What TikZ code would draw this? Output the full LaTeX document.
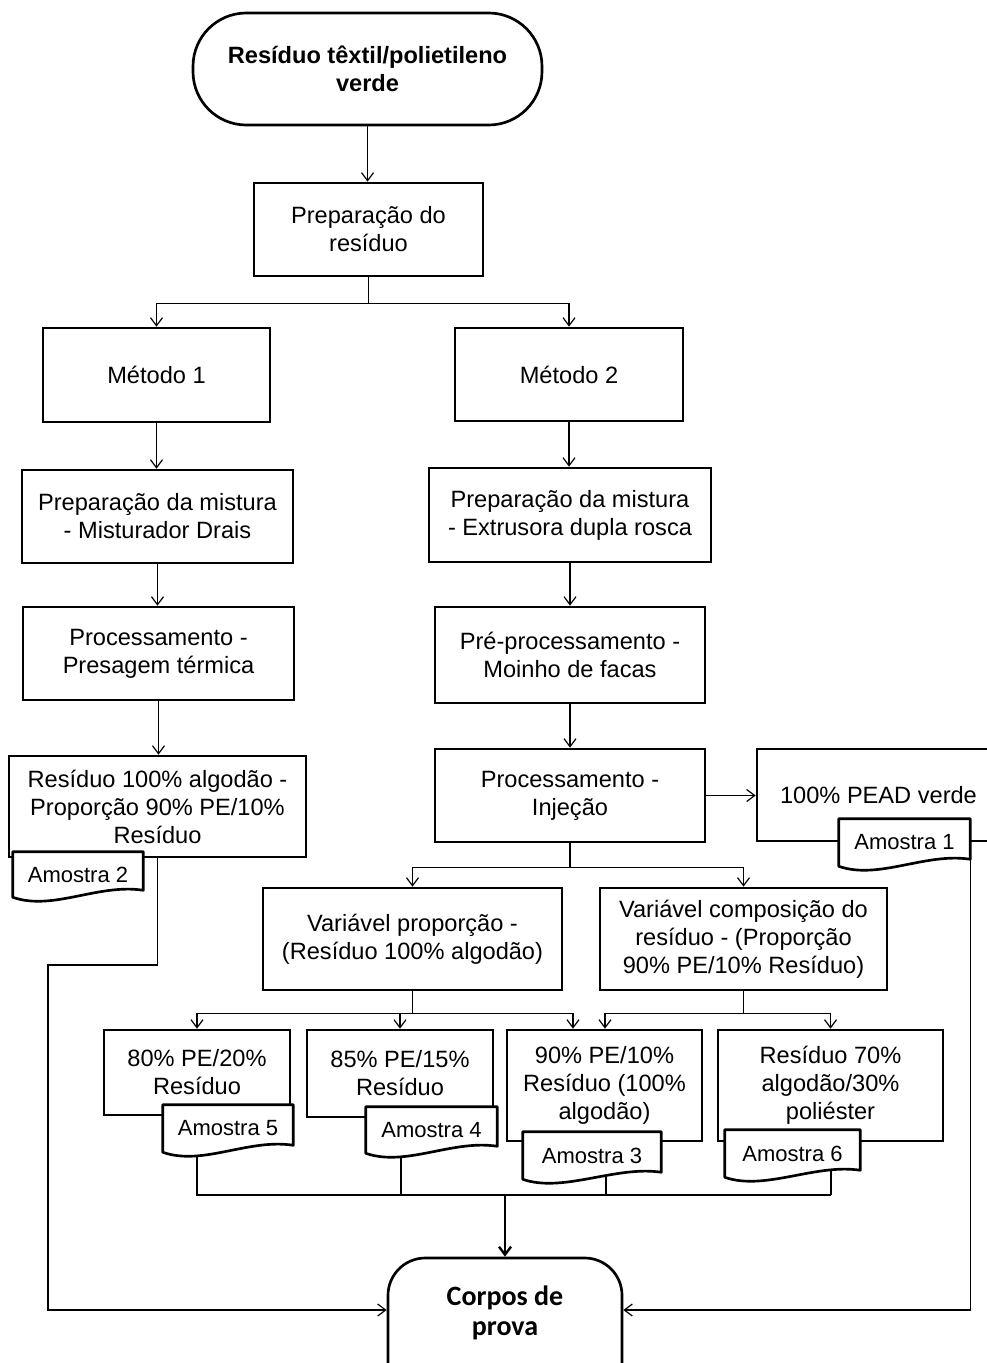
\documentclass[tikz,border=0pt]{standalone}
\usepackage{fontspec}
\setmainfont{Liberation Sans}
\newfontfamily\corposfont{Carlito}
\usetikzlibrary{fit,calc,arrows.meta}
\pgfdeclarelayer{background}
\pgfsetlayers{background,main}
% box from pixel corners: [style]{name}{x1}{y1}{x2}{y2}{text}
\newcommand\bx[7][box]{%
  \pgfmathsetmacro\bxcx{(#3+#5)/2}\pgfmathsetmacro\bxcy{(#4+#6)/2}%
  \pgfmathsetmacro\bxw{(#5-#3)*0.75}\pgfmathsetmacro\bxh{(#6-#4)*0.75}%
  \node[#1, minimum width=\bxw pt, minimum height=\bxh pt] (#2) at (\bxcx,\bxcy) {#7};}
\newcommand\docbox[4]{%
  \node[fit={#2 #3}, inner sep=0pt] (#1) {};
  \filldraw[docline] (#1.north west) -- (#1.north east) -- ($(#1.south east)+(0,-7)$)
    .. controls ($(#1.south east)+(-45,-14)$) and ($(#1.south west)+(40,14)$) .. (#1.south west) -- cycle;
  \node[docn] (#1t) at (#1.center) {#4};}
\begin{document}
\begin{tikzpicture}[x=0.75pt,y=-0.75pt,
  box/.style={draw, line width=2pt, inner sep=0pt, align=center, font=\fontsize{17.7}{21}\selectfont},
  term/.style={box, rounded corners=40pt, font=\bfseries\fontsize{17.7}{21}\selectfont},
  docn/.style={inner sep=0pt, align=center, font=\fontsize{16.5}{20}\selectfont},
  docline/.style={draw, fill=white, line width=2pt, line join=round},
  conn/.style={line width=0.9pt},
  arr/.style={conn, -{Straight Barb[length=6pt,width=9pt]}},
]
\useasboundingbox (0,0) rectangle (987,1363);
\clip (0,0) rectangle (987,1363);

% main boxes
\bx[term]{start}{193}{13}{542}{125}{Resíduo têxtil/polietileno\\verde}
\bx{prep}{254}{183}{483}{276}{Preparação do\\resíduo}
\bx{m1}{43}{328}{270}{422}{Método 1}
\bx{m2}{455}{328}{683}{421}{Método 2}
\bx{mix1}{22}{470}{293}{563}{Preparação da mistura\\- Misturador Drais}
\bx{mix2}{429}{468}{711}{562}{Preparação da mistura\\- Extrusora dupla rosca}
\bx{pres}{23}{607}{294}{700}{Processamento -\\Presagem térmica}
\bx{moin}{435}{607}{705}{703}{Pré-processamento -\\Moinho de facas}
\bx{r2}{9}{756}{306}{857}{Resíduo 100\% algodão -\\Proporção 90\% PE/10\%\\Resíduo}
\bx{inj}{435}{749}{705}{842}{Processamento -\\Injeção}
\bx{pe}{757}{749}{1000}{841}{100\% PEAD verde}
\bx{vp}{263}{888}{562}{990}{Variável proporção -\\(Resíduo 100\% algodão)}
\bx{vc}{600}{888}{887}{990}{Variável composição do\\resíduo - (Proporção\\90\% PE/10\% Resíduo)}
\bx{n80}{104}{1030}{290}{1115}{80\% PE/20\%\\Resíduo}
\bx{n85}{307}{1030}{493}{1117}{85\% PE/15\%\\Resíduo}
\bx{n90}{507}{1030}{702}{1141}{90\% PE/10\%\\Resíduo (100\%\\algodão)}
\bx{n70}{718}{1030}{943}{1141}{Resíduo 70\%\\algodão/30\%\\poliéster}
\node[draw, line width=2pt, rounded corners=28pt, inner sep=0pt, fit={(388,1258)(622,1420)}] (cp) {};
\node[font=\corposfont\bfseries\fontsize{21}{22}\selectfont, align=center] (cpt) at (505,1313) {Corpos de\\prova};

% documents
\docbox{a2}{(13,852)}{(143,897)}{Amostra 2}
\docbox{a1}{(839,819)}{(970,866)}{Amostra 1}
\docbox{a5}{(163,1105)}{(293,1152)}{Amostra 5}
\docbox{a4}{(366,1107)}{(497,1153)}{Amostra 4}
\docbox{a3}{(523,1132)}{(661,1179)}{Amostra 3}
\docbox{a6}{(725,1130)}{(860,1177)}{Amostra 6}

% connectors
\draw[arr] (start.south) -- (prep.north -| start.south);
\draw[conn] (prep.south) -- ++(0,26) coordinate (s1);
\draw[arr] (s1) -| (m1.north);
\draw[arr] (s1) -| (m2.north);
\draw[arr] (m1.south) -- (mix1.north -| m1.south);
\draw[arr] (mix1.south) -- (pres.north -| mix1.south);
\draw[arr] (pres.south) -- (r2.north -| pres.south);
\draw[arr] (m2.south) -- (mix2.north -| m2.south);
\draw[arr] (mix2.south) -- (moin.north -| mix2.south);
\draw[arr] (moin.south) -- (inj.north -| moin.south);
\draw[arr] (inj.east) -- (pe.west |- inj.east);
\draw[conn] (inj.south) -- ++(0,24) coordinate (s2);
\draw[arr] (s2) -| (vp.north);
\draw[arr] (s2) -| (vc.north);
\coordinate (t3) at (573,1012);
\coordinate (t4) at (605,1012);
\draw[conn] (vp.south) -- ++(0,22) coordinate (s3);
\draw[arr] (s3) -| (n80.north);
\draw[arr] (s3) -| (n85.north);
\draw[arr] (s3) -| (n90.north -| t3);
\draw[conn] (vc.south) -- ++(0,22) coordinate (s4);
\draw[arr] (s4) -| (n90.north -| t4);
\draw[arr] (s4) -| (n70.north);

\coordinate (b5) at (197,1195);
\coordinate (b4) at (401,1195);
\coordinate (b3) at (606,1195);
\coordinate (b6) at (831,1195);
\coordinate (bm) at (505,1195);
\begin{pgfonlayer}{background}
\draw[conn] (a5.center -| b5) -- (b5) -- (b6);
\draw[conn] (a4.center -| b4) -- (b4);
\draw[conn] (a3.center -| b3) -- (b3);
\draw[conn] (a6.center -| b6) -- (b6);
\coordinate (r1) at (971,1310);
\draw[arr] (a1.east) -- (a1.east |- r1) -- (cp.east |- r1);
\end{pgfonlayer}
\draw[arr, line width=1.8pt] (bm) -- (cp.north -| bm);

\coordinate (l2) at (48,965);
\coordinate (l3) at (48,1310);
\draw[arr] (r2.south) |- (l2) -- (l3) -- (cp.west |- l3);
\end{tikzpicture}
\end{document}
